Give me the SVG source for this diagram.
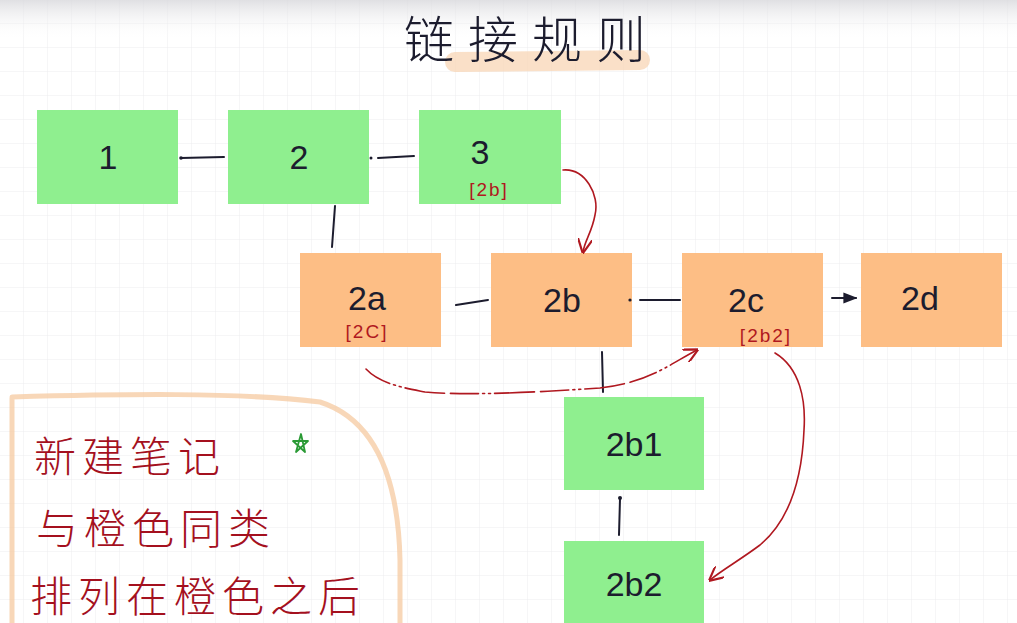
<svg xmlns="http://www.w3.org/2000/svg" width="1017" height="623" viewBox="0 0 1017 623">
<defs>
<pattern id="grid" width="24" height="24" patternUnits="userSpaceOnUse">
<path d="M24 0V24M0 24H24" fill="none" stroke="#ececef" stroke-width="1"/>
</pattern>
<linearGradient id="shade" x1="0" y1="0" x2="0" y2="1">
<stop offset="0" stop-color="#d8d8dc" stop-opacity="0.8"/>
<stop offset="1" stop-color="#ffffff" stop-opacity="0"/>
</linearGradient>
<marker id="arrK" viewBox="0 0 10 10" refX="9" refY="5" markerWidth="7" markerHeight="7" orient="auto-start-reverse">
<path d="M0,1 L10,5 L0,9 z" fill="#1c1c2e"/>
</marker>
<marker id="arrR" viewBox="0 0 10 10" refX="9" refY="5" markerWidth="9" markerHeight="9" orient="auto-start-reverse">
<path d="M0,0 L10,5 L0,10" fill="none" stroke="#b01820" stroke-width="1.5"/>
</marker>
<style>
.g{fill:#8FEF8F}
.o{fill:#FDBE85}
.lbl{font-family:"Liberation Sans","DejaVu Sans",sans-serif;font-size:34px;fill:#1c1c2e;text-anchor:middle}
.ref{font-family:"Liberation Sans","DejaVu Sans",sans-serif;font-size:19px;fill:#b01820;text-anchor:middle;letter-spacing:2px}
.k{stroke:#1c1c2e;stroke-width:2;fill:none;stroke-linecap:round}
.r{stroke:#b01820;stroke-width:1.6;fill:none;stroke-linecap:round}
.cn{font-family:"Noto Sans CJK SC","Noto Sans CJK TC",sans-serif;font-weight:300}
.note{font-size:42px;fill:#a4101e;letter-spacing:6px}
</style>
</defs>
<rect width="1017" height="623" fill="#ffffff"/>
<rect width="1017" height="623" fill="url(#grid)"/>
<rect width="1017" height="40" fill="url(#shade)"/>

<g id="title">
<path d="M455 62 L640 60" stroke="#f8d6b6" stroke-width="20" stroke-linecap="round" opacity="0.75" fill="none"/>
<text x="532" y="58" class="cn" font-size="50" fill="#1c1c2e" text-anchor="middle" letter-spacing="14">链接规则</text>
</g>

<g id="note-frame">
<path d="M12 398 L12 623 M12 397 C120 394 240 392 320 402 C370 418 398 470 400 560 L400 623" fill="none" stroke="#f6c9a0" stroke-width="5" stroke-linecap="round" opacity="0.75"/>
</g>

<g id="node-1"><rect class="g" x="37" y="110" width="141" height="94"/><text class="lbl" x="108" y="169">1</text></g>
<g id="node-2"><rect class="g" x="228" y="110" width="141" height="94"/><text class="lbl" x="299" y="169">2</text></g>
<g id="node-3"><rect class="g" x="419" y="110" width="142" height="94"/><text class="lbl" x="480" y="164">3</text><text class="ref" x="489" y="196">[2b]</text></g>
<g id="node-2a"><rect class="o" x="300" y="253" width="141" height="94"/><text class="lbl" x="367" y="310">2a</text><text class="ref" x="367" y="338" letter-spacing="6">[2C]</text></g>
<g id="node-2b"><rect class="o" x="491" y="253" width="141" height="94"/><text class="lbl" x="562" y="312">2b</text></g>
<g id="node-2c"><rect class="o" x="682" y="253" width="141" height="94"/><text class="lbl" x="746" y="312">2c</text><text class="ref" x="766" y="342">[2b2]</text></g>
<g id="node-2d"><rect class="o" x="861" y="253" width="141" height="94"/><text class="lbl" x="920" y="310">2d</text></g>
<g id="node-2b1"><rect class="g" x="564" y="397" width="140" height="93"/><text class="lbl" x="634" y="456">2b1</text></g>
<g id="node-2b2"><rect class="g" x="564" y="541" width="140" height="82"/><text class="lbl" x="634" y="596">2b2</text></g>

<g id="note-text" class="cn note">
<text x="34" y="472">新建笔记</text>
<text x="36" y="544">与橙色同类</text>
<text x="30" y="612">排列在橙色之后</text>
</g>
<g id="star">
<path d="M301 434 L305 452 L293 441 L308 441 L296 452 Z" fill="none" stroke="#2a9a35" stroke-width="1.8" stroke-linejoin="round"/>
</g>

<g id="connectors">
<path class="k" d="M224 157 L181 158"/>
<circle cx="181" cy="158" r="1.8" fill="#1c1c2e"/>
<path class="k" d="M414 156 L378 158"/>
<circle cx="371" cy="158" r="1.5" fill="#1c1c2e"/>
<path class="k" d="M335 206 L332 247"/>
<path class="k" d="M488 300 L456 305"/>
<path class="k" d="M680 300 L640 300"/>
<circle cx="630" cy="300" r="1.6" fill="#1c1c2e"/>
<path class="k" d="M832 298 L856 298" marker-end="url(#arrK)"/>
<path class="k" d="M602 352 L603 392"/>
<path class="k" d="M620 499 L619 535"/>
<circle cx="620" cy="498" r="2" fill="#1c1c2e"/>

<path class="r" d="M563 170 C585 168 600 195 595 215 C592 232 585 240 583 252" marker-end="url(#arrR)"/>
<path class="r" d="M366 369 C380 384 405 388 425 392 C470 396 540 392 600 388 C650 382 670 364 697 350" stroke-dasharray="28 4 2 4 2 4 40 6" marker-end="url(#arrR)"/>
<path class="r" d="M775 353 C800 368 806 400 804 430 C802 480 790 520 760 545 C740 560 722 570 710 580" marker-end="url(#arrR)"/>
</g>
</svg>
